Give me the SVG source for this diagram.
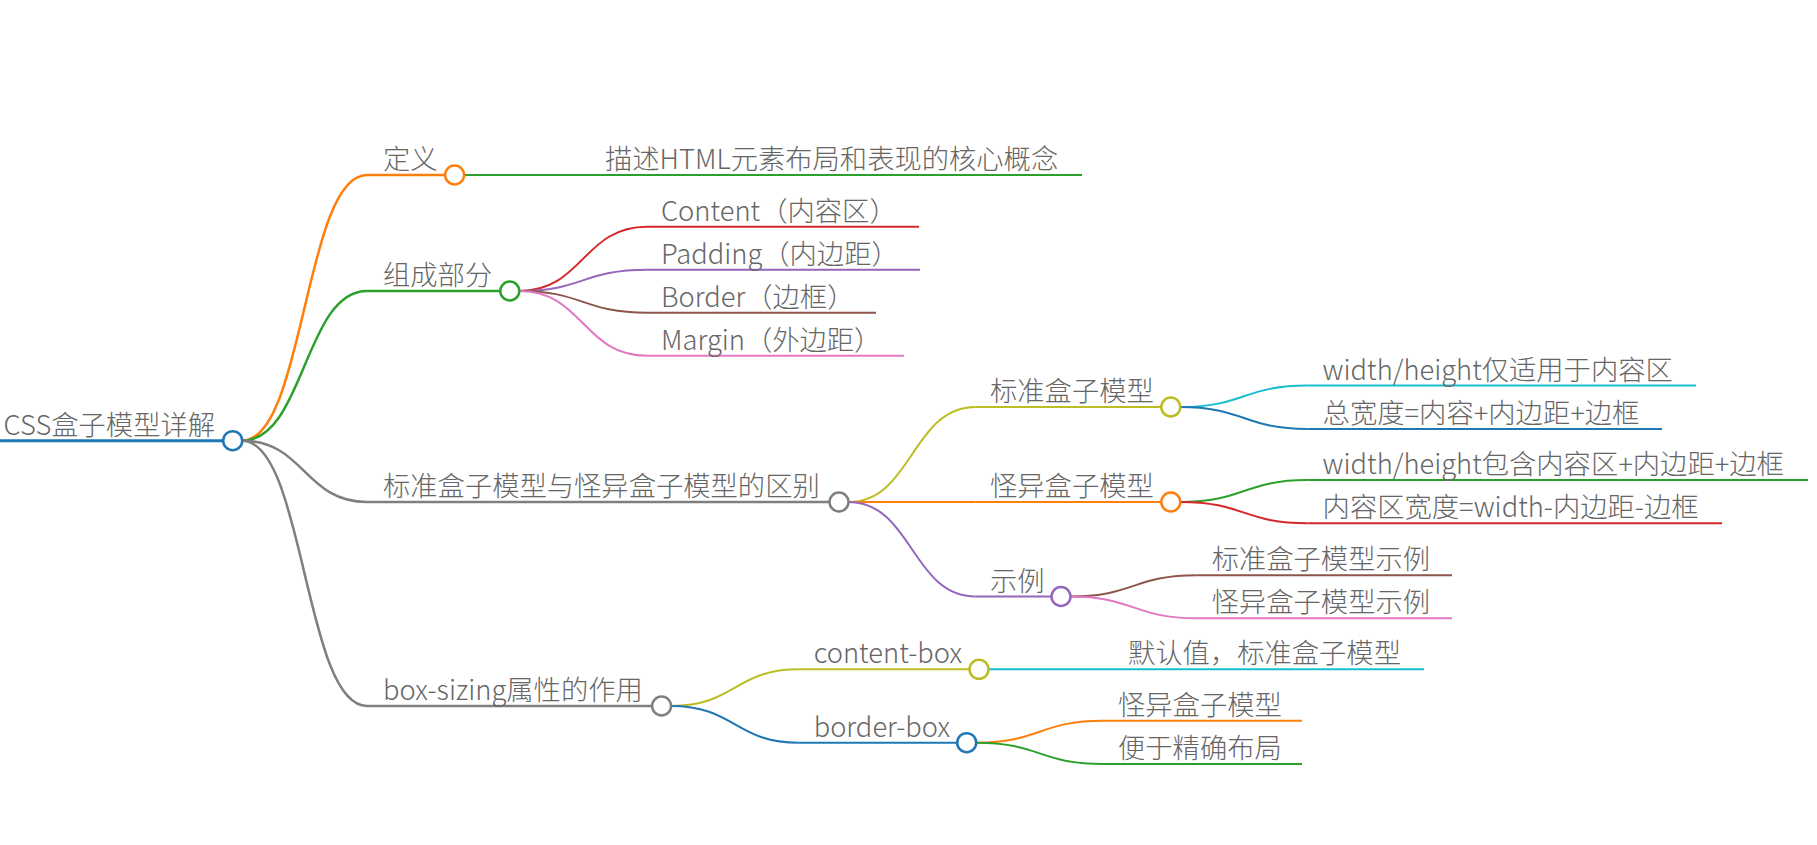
<svg xmlns="http://www.w3.org/2000/svg" width="1817" height="845" viewBox="0 0 1817 845">
<style>
text{font-family:"Noto Sans CJK SC","Noto Sans",sans-serif;font-size:27.3px;font-weight:300;fill:#666}
.ln{fill:none;stroke-linecap:butt}
.c{fill:#fff;stroke-width:2.5}
.l0{stroke-width:3}
.l1{stroke-width:2.5}
.l2{stroke-width:2}
</style>
<rect width="1817" height="845" fill="#fff"/>
<g id="connectors" class="ln">
<path class="l1" stroke="#ff7f0e" d="M242 440.7C304.5 440.7 304.5 175 367 175"/>
<path class="l1" stroke="#2ca02c" d="M242 440.7C304.5 440.7 304.5 291 367 291"/>
<path class="l1" stroke="#7f7f7f" d="M242 440.7C304.5 440.7 304.5 502 367 502"/>
<path class="l1" stroke="#7f7f7f" d="M242 440.7C304.5 440.7 304.5 706 367 706"/>
<path class="l2" stroke="#2ca02c" d="M464 175L590 175"/>
<path class="l2" stroke="#d62728" d="M519.3 291C583 291 583 226.7 647 226.7"/>
<path class="l2" stroke="#9467bd" d="M519.3 291C583 291 583 269.7 647 269.7"/>
<path class="l2" stroke="#8c564b" d="M519.3 291C583 291 583 312.7 647 312.7"/>
<path class="l2" stroke="#e377c2" d="M519.3 291C583 291 583 355.7 647 355.7"/>
<path class="l2" stroke="#bcbd22" d="M848.5 502C912 502 912 407 975.6 407"/>
<path class="l2" stroke="#ff7f0e" d="M848.5 502L975.6 502"/>
<path class="l2" stroke="#9467bd" d="M848.5 502C912 502 912 596.5 975.6 596.5"/>
<path class="l2" stroke="#bcbd22" d="M671 706C735 706 735 669.3 798.7 669.3"/>
<path class="l2" stroke="#1f77b4" d="M671 706C735 706 735 742.7 798.7 742.7"/>
<path class="l2" stroke="#17becf" d="M1180.3 407C1244 407 1244 385.5 1307.6 385.5"/>
<path class="l2" stroke="#1f77b4" d="M1180.3 407C1244 407 1244 429 1307.6 429"/>
<path class="l2" stroke="#2ca02c" d="M1180.3 502C1244 502 1244 480 1307.6 480"/>
<path class="l2" stroke="#d62728" d="M1180.3 502C1244 502 1244 523.3 1307.6 523.3"/>
<path class="l2" stroke="#8c564b" d="M1070.5 596.5C1133.6 596.5 1133.6 575.2 1196.7 575.2"/>
<path class="l2" stroke="#e377c2" d="M1070.5 596.5C1133.6 596.5 1133.6 618.3 1196.7 618.3"/>
<path class="l2" stroke="#17becf" d="M988.5 669.3L1113 669.3"/>
<path class="l2" stroke="#ff7f0e" d="M976.2 742.7C1039.6 742.7 1039.6 720.7 1103 720.7"/>
<path class="l2" stroke="#2ca02c" d="M976.2 742.7C1039.6 742.7 1039.6 764 1103 764"/>
</g>
<g id="root" class="ln">
<path class="l0" stroke="#1f77b4" d="M0 440.7H223"/>
<circle class="c" stroke="#1f77b4" cx="232.7" cy="440.7" r="9.5"/>
<text x="3.5" y="435">CSS盒子模型详解</text>
</g>
<g id="n-dingyi" class="ln">
<path class="l1" stroke="#ff7f0e" d="M367 175H445"/>
<circle class="c" stroke="#ff7f0e" cx="454.6" cy="175" r="9.5"/>
<text x="383" y="169">定义</text>
</g>
<g id="n-miaoshu" class="ln">
<path class="l2" stroke="#2ca02c" d="M590 175H1082"/>
<text x="605" y="169">描述HTML元素布局和表现的核心概念</text>
</g>
<g id="n-zucheng" class="ln">
<path class="l1" stroke="#2ca02c" d="M367 291H500"/>
<circle class="c" stroke="#2ca02c" cx="509.8" cy="291" r="9.5"/>
<text x="383" y="285">组成部分</text>
</g>
<g id="n-content" class="ln">
<path class="l2" stroke="#d62728" d="M647 226.7H919"/>
<text x="661" y="220.7">Content（内容区）</text>
</g>
<g id="n-padding" class="ln">
<path class="l2" stroke="#9467bd" d="M647 269.7H920"/>
<text x="661" y="263.7">Padding（内边距）</text>
</g>
<g id="n-border" class="ln">
<path class="l2" stroke="#8c564b" d="M647 312.7H876"/>
<text x="661" y="306.7">Border（边框）</text>
</g>
<g id="n-margin" class="ln">
<path class="l2" stroke="#e377c2" d="M647 355.7H904"/>
<text x="661" y="349.7">Margin（外边距）</text>
</g>
<g id="n-qubie" class="ln">
<path class="l1" stroke="#7f7f7f" d="M367 502H829.5"/>
<circle class="c" stroke="#7f7f7f" cx="839" cy="502" r="9.5"/>
<text x="383" y="496">标准盒子模型与怪异盒子模型的区别</text>
</g>
<g id="n-biaozhun" class="ln">
<path class="l2" stroke="#bcbd22" d="M975.6 407H1161.3"/>
<circle class="c" stroke="#bcbd22" cx="1170.8" cy="407" r="9.5"/>
<text x="990" y="401">标准盒子模型</text>
</g>
<g id="n-bz1" class="ln">
<path class="l2" stroke="#17becf" d="M1307.6 385.5H1696"/>
<text x="1322.6" y="379.5">width/height仅适用于内容区</text>
</g>
<g id="n-bz2" class="ln">
<path class="l2" stroke="#1f77b4" d="M1307.6 429H1662"/>
<text x="1322.6" y="423">总宽度=内容+内边距+边框</text>
</g>
<g id="n-guaiyi" class="ln">
<path class="l2" stroke="#ff7f0e" d="M975.6 502H1161.3"/>
<circle class="c" stroke="#ff7f0e" cx="1170.8" cy="502" r="9.5"/>
<text x="990" y="496">怪异盒子模型</text>
</g>
<g id="n-gy1" class="ln">
<path class="l2" stroke="#2ca02c" d="M1307.6 480H1808"/>
<text x="1322.6" y="474">width/height包含内容区+内边距+边框</text>
</g>
<g id="n-gy2" class="ln">
<path class="l2" stroke="#d62728" d="M1307.6 523.3H1722"/>
<text x="1322.6" y="517.3">内容区宽度=width-内边距-边框</text>
</g>
<g id="n-shili" class="ln">
<path class="l2" stroke="#9467bd" d="M975.6 596.5H1051.5"/>
<circle class="c" stroke="#9467bd" cx="1061" cy="596.5" r="9.5"/>
<text x="990" y="590.5">示例</text>
</g>
<g id="n-sl1" class="ln">
<path class="l2" stroke="#8c564b" d="M1196.7 575.2H1452"/>
<text x="1211.7" y="569.2">标准盒子模型示例</text>
</g>
<g id="n-sl2" class="ln">
<path class="l2" stroke="#e377c2" d="M1196.7 618.3H1452"/>
<text x="1211.7" y="612.3">怪异盒子模型示例</text>
</g>
<g id="n-boxsizing" class="ln">
<path class="l1" stroke="#7f7f7f" d="M367 706H652"/>
<circle class="c" stroke="#7f7f7f" cx="661.6" cy="706" r="9.5"/>
<text x="383" y="700">box-sizing属性的作用</text>
</g>
<g id="n-contentbox" class="ln">
<path class="l2" stroke="#bcbd22" d="M798.7 669.3H969.5"/>
<circle class="c" stroke="#bcbd22" cx="979" cy="669.3" r="9.5"/>
<text x="813.7" y="663.3">content-box</text>
</g>
<g id="n-moren" class="ln">
<path class="l2" stroke="#17becf" d="M1113 669.3H1424"/>
<text x="1128" y="663.3">默认值，标准盒子模型</text>
</g>
<g id="n-borderbox" class="ln">
<path class="l2" stroke="#1f77b4" d="M798.7 742.7H957.2"/>
<circle class="c" stroke="#1f77b4" cx="966.7" cy="742.7" r="9.5"/>
<text x="813.7" y="736.7">border-box</text>
</g>
<g id="n-gy-leaf" class="ln">
<path class="l2" stroke="#ff7f0e" d="M1103 720.7H1302"/>
<text x="1118" y="714.7">怪异盒子模型</text>
</g>
<g id="n-bianyu" class="ln">
<path class="l2" stroke="#2ca02c" d="M1103 764H1302"/>
<text x="1118" y="758">便于精确布局</text>
</g>
</svg>
